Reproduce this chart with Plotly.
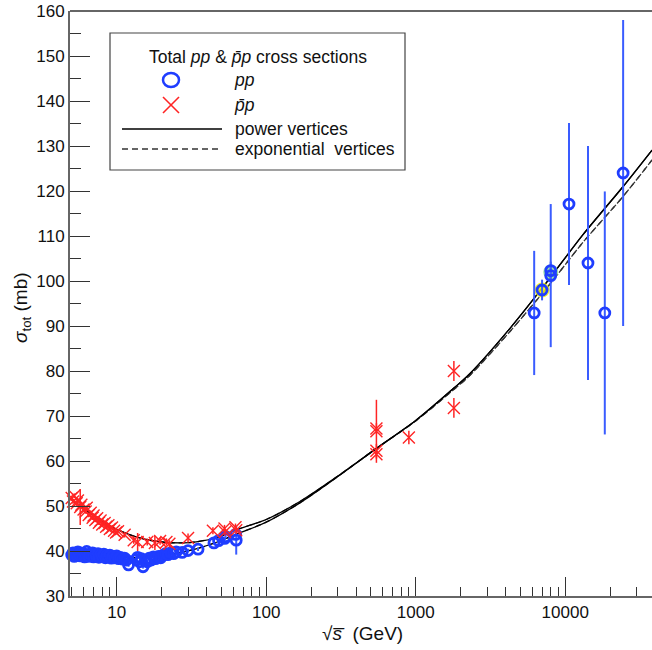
import numpy as np
import plotly.graph_objects as go

# ---------------- data ----------------
# pp, low energy (sqrt(s) in GeV, sigma in mb)
pp_low_e = [5.0, 5.1, 5.2, 5.3, 5.4, 5.5, 5.6, 5.7, 5.8, 5.9, 6.0, 6.1, 6.2, 6.3, 6.4, 6.5, 6.6, 6.8, 6.9,
            7.0, 7.2, 7.3, 7.5, 7.6, 7.8, 8.0, 8.2, 8.4, 8.6, 8.8, 9.0, 9.2, 9.4, 9.7, 10.0, 10.3, 10.6,
            11.0, 11.3, 11.6, 12.0, 13.5, 13.8, 14.2, 14.6, 15.0, 15.5, 16.0, 16.5, 17.0, 17.6, 18.2,
            19.0, 19.7, 20.5, 21.2, 22.0, 23.0, 24.0, 25.0, 27.4, 30.0, 35.0, 44.7, 48.0, 52.8, 53.5, 62.5, 63.0]
pp_low_sig = [39.1, 39.6, 38.8, 39.3, 39.0, 39.8, 39.2, 38.9, 39.5, 39.0, 39.4, 38.7, 39.2, 39.9, 39.1, 38.8, 39.3, 39.0, 39.6,
              38.7, 39.2, 38.9, 39.4, 38.6, 39.1, 38.8, 39.3, 38.5, 39.0, 38.7, 39.1, 38.4, 38.8, 38.5, 38.9, 38.3, 38.6,
              38.2, 38.4, 38.0, 36.9, 38.1, 38.6, 37.6, 38.3, 36.5, 37.9, 37.6, 38.4, 38.0, 38.7, 38.3,
              38.8, 38.5, 39.1, 39.4, 39.2, 39.6, 39.4, 39.8, 39.7, 40.1, 40.4, 41.8, 42.3, 42.8, 43.2, 43.7, 42.4]
pp_low_err = [0.4] * 68 + [3.2]

# pp, high energy
pp_high_e = [6200, 7000, 8000, 8000, 10600, 14200, 18400, 24400]
pp_high_sig = [92.9, 98.0, 102.3, 101.2, 117.1, 104.0, 92.9, 124.0]
pp_high_err = [13.8, 2.3, 2.0, 15.9, 18.0, 26.0, 27.0, 34.0]

# LHC points highlighted with a coloured halo
lhc_e = [7000, 8000]
lhc_sig = [98.0, 102.0]
lhc_halo = ["#f2f20a", "#8fe08f"]

# pbar-p
pbp_e = [5.0, 5.1, 5.2, 5.4, 5.5, 5.7, 5.8, 6.0, 6.2, 6.3, 6.5, 6.7, 6.9, 7.0, 7.2, 7.4, 7.6, 7.8,
         8.0, 8.3, 8.5, 8.8, 9.0, 9.3, 9.6, 9.9, 10.2, 11.3, 13.0, 13.8, 16.0, 18.0, 19.5, 21.5, 22.5,
         30.0, 44.0, 52.6, 53.0, 62.3, 63.0,
         546, 546, 546, 546, 900, 1800, 1800]
pbp_sig = [51.8, 51.0, 52.3, 50.6, 51.2, 49.8, 50.3, 49.2, 48.8, 49.6, 48.0, 48.5, 47.4, 47.9, 46.9, 47.3, 46.3, 46.8,
           45.9, 46.2, 45.4, 45.7, 44.9, 45.2, 44.5, 44.1, 44.4, 43.6, 42.4, 42.0, 42.0, 41.8, 42.2, 42.0, 41.6,
           42.9, 44.5, 45.0, 44.2, 45.3, 44.6,
           61.5, 62.3, 66.6, 67.2, 65.2, 80.0, 71.8]
pbp_err = [0.5, 0.5, 0.5, 0.5, 0.5, 4.0, 0.5, 0.5, 0.5, 0.5, 0.5, 0.5, 0.5, 0.5, 0.5, 0.5, 0.5, 0.5,
           0.5, 0.5, 0.5, 0.5, 0.5, 0.5, 0.5, 0.5, 0.5, 0.6, 0.8, 2.0, 0.8, 1.6, 0.8, 0.8, 0.8,
           1.0, 0.8, 0.8, 0.8, 0.8, 0.8,
           1.0, 1.5, 7.0, 1.2, 1.5, 2.2, 2.2]

# model curves
curve_e = [4.87, 6, 7, 8, 10, 13, 16, 20, 28, 35, 47, 64, 100, 168, 300, 546, 1000, 1800, 2300, 4300, 7550, 13150, 24400, 38100]
pbp_power = [51.7, 49.5, 47.9, 46.6, 44.8, 43.3, 42.5, 42.0, 41.8, 42.1, 43.0, 44.8, 47.0, 51.0, 56.6, 62.8, 69.0, 76.2, 79.4, 89.6, 99.8, 110.3, 121.0, 129.1]
pp_power = [39.6, 39.3, 39.1, 38.9, 38.7, 38.5, 38.6, 38.9, 39.8, 40.6, 42.0, 43.8, 46.4, 50.7, 56.5, 62.8, 69.0, 76.2, 79.4, 89.6, 99.8, 110.3, 121.0, 129.1]
pbp_expo = [51.7, 49.5, 47.9, 46.6, 44.8, 43.3, 42.5, 42.0, 41.8, 42.1, 43.0, 44.8, 47.0, 51.0, 56.6, 62.8, 68.9, 75.9, 79.0, 88.9, 98.5, 108.6, 118.8, 126.9]
pp_expo = [39.6, 39.3, 39.1, 38.9, 38.7, 38.5, 38.6, 38.9, 39.8, 40.6, 42.0, 43.8, 46.4, 50.7, 56.5, 62.8, 68.9, 75.9, 79.0, 88.9, 98.5, 108.6, 118.8, 126.9]

x_major = [10, 100, 1000, 10000]
x_major_text = ["10", "100", "1000", "10000"]
x_minor = [5, 6, 7, 8, 9, 20, 30, 40, 50, 60, 70, 80, 90, 200, 300, 400, 500, 600, 700, 800, 900,
           2000, 3000, 4000, 5000, 6000, 7000, 8000, 9000, 20000, 30000]

# ---------------- styling ----------------
FONT = "Arial, Liberation Sans, sans-serif"
BLUE = "#1f3dff"
BLUE_BAR = "#3a5cff"
RED = "#ff2424"

fig = go.Figure()

for ys, dash, col in [(pp_expo, "6px,4px", "#333333"), (pbp_expo, "6px,4px", "#333333"),
                      (pp_power, "solid", "#000000"), (pbp_power, "solid", "#000000")]:
    fig.add_trace(go.Scatter(x=curve_e, y=ys, mode="lines", line=dict(color=col, width=1.3, dash=dash, shape="spline", smoothing=0.8),
                             showlegend=False, hoverinfo="skip"))

fig.add_trace(go.Scatter(x=lhc_e, y=lhc_sig, mode="markers",
                         marker=dict(symbol="circle", size=15, color=lhc_halo, opacity=0.85, line=dict(width=0)),
                         showlegend=False, cliponaxis=False))

fig.add_trace(go.Scatter(x=pp_low_e + pp_high_e, y=pp_low_sig + pp_high_sig, mode="markers",
                         marker=dict(symbol="circle-open", size=10, color=BLUE, line=dict(width=2.8, color=BLUE)),
                         error_y=dict(type="data", array=pp_low_err + pp_high_err, color=BLUE_BAR, thickness=2, width=0),
                         showlegend=False, cliponaxis=False))

fig.add_trace(go.Scatter(x=pbp_e, y=pbp_sig, mode="markers",
                         marker=dict(symbol="x-thin-open", size=12, color=RED, line=dict(width=1.4, color=RED)),
                         error_y=dict(type="data", array=pbp_err, color=RED, thickness=1.5, width=0),
                         showlegend=False, cliponaxis=False))

# ---------------- layout ----------------
L, R, T, B = 70, 0, 11, 54
W, H = 652, 650
PW, PH = W - L - R, H - T - B


def px(x):
    return (x - L) / PW


def py(y):
    return (T + PH - y) / PH


shapes = [
    # top frame line
    dict(type="line", xref="paper", yref="paper", x0=0, x1=1, y0=1, y1=1, line=dict(color="#666666", width=2)),
    # legend box
    dict(type="rect", xref="paper", yref="paper", x0=px(110), x1=px(405), y0=py(170), y1=py(33),
         line=dict(color="#444444", width=1.2), fillcolor="white", layer="above"),
    # legend circle
    dict(type="circle", xref="paper", yref="paper", x0=px(163), x1=px(179), y0=py(87), y1=py(73),
         line=dict(color=BLUE, width=2.5), layer="above"),
    # legend cross
    dict(type="line", xref="paper", yref="paper", x0=px(163), x1=px(179), y0=py(97), y1=py(113),
         line=dict(color=RED, width=1.6), layer="above"),
    dict(type="line", xref="paper", yref="paper", x0=px(163), x1=px(179), y0=py(113), y1=py(97),
         line=dict(color=RED, width=1.6), layer="above"),
    # legend lines
    dict(type="line", xref="paper", yref="paper", x0=px(122), x1=px(222), y0=py(129), y1=py(129),
         line=dict(color="#000000", width=1.3), layer="above"),
    dict(type="line", xref="paper", yref="paper", x0=px(122), x1=px(222), y0=py(149), y1=py(149),
         line=dict(color="#333333", width=1.3, dash="6px,4px"), layer="above"),
]

LF = dict(family=FONT, size=17.5, color="#111111")
annotations = [
    dict(text="Total <i>pp</i> &amp; <i>p\u0304p</i> cross sections", x=px(258), y=py(57), xanchor="center", yanchor="middle"),
    dict(text="<i>pp</i>", x=px(232), y=py(80), xanchor="left", yanchor="middle"),
    dict(text="<i>p\u0304p</i>", x=px(232), y=py(105), xanchor="left", yanchor="middle"),
    dict(text="power vertices", x=px(233), y=py(129), xanchor="left", yanchor="middle"),
    dict(text="exponential  vertices", x=px(233), y=py(149), xanchor="left", yanchor="middle"),
]
for a in annotations:
    a.update(xref="paper", yref="paper", showarrow=False, font=LF)

annotations.append(dict(text="\u221a<i>s\u0305</i>  (GeV)", x=px(362), y=py(633), xref="paper", yref="paper",
                        xanchor="center", yanchor="middle", showarrow=False, font=dict(family=FONT, size=19, color="#111111")))
annotations.append(dict(text="<i>\u03c3</i><sub>tot</sub> (mb)", x=px(22), y=py(308), xref="paper", yref="paper",
                        textangle=-90, xanchor="center", yanchor="middle", showarrow=False,
                        font=dict(family=FONT, size=19, color="#111111")))

fig.update_layout(
    width=W, height=H,
    margin=dict(l=L, r=R, t=T, b=B, pad=0),
    paper_bgcolor="white", plot_bgcolor="white",
    font=dict(family=FONT, size=17, color="#111111"),
    shapes=shapes, annotations=annotations,
    showlegend=False,
    xaxis=dict(type="log", range=[np.log10(4.87), np.log10(4.87) + PW / 149.5], automargin=False,
               tickmode="array", tickvals=x_major, ticktext=x_major_text,
               ticks="inside", ticklen=19, tickwidth=1.4, tickcolor="#333333",
               minor=dict(tickmode="array", tickvals=x_minor, ticks="inside", ticklen=9, tickwidth=1.4, tickcolor="#333333"),
               showline=True, linecolor="#666666", linewidth=2, showgrid=False, zeroline=False,
               tickfont=dict(family=FONT, size=17, color="#111111")),
    yaxis=dict(range=[30, 160], tickmode="linear", tick0=30, dtick=10, automargin=False,
               ticks="inside", ticklen=20, tickwidth=1.4, tickcolor="#333333",
               minor=dict(dtick=5, tick0=30, ticks="inside", ticklen=11, tickwidth=1.4, tickcolor="#333333"),
               showline=True, linecolor="#666666", linewidth=2, showgrid=False, zeroline=False,
               tickfont=dict(family=FONT, size=17, color="#111111")),
)

fig.write_html("out.html", config={"displayModeBar": False},
               post_script="document.body.style.margin='0';document.body.style.overflow='hidden';")
